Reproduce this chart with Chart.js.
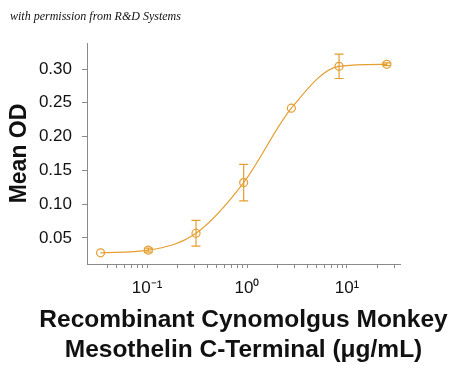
<!DOCTYPE html>
<html lang="en">
<head>
    <meta charset="UTF-8">
    <title>Mean OD vs Mesothelin C-Terminal</title>
    <script src="https://cdn.jsdelivr.net/npm/chart.js"></script>
    <style>
        body {
            margin: 0;
            background: #fff;
        }
        .wrap {
            position: relative;
            width: 450px;
            height: 366px;
        }
        .credit {
            position: absolute;
            left: 10px;
            top: 9px;
            font-family: "Liberation Serif", serif;
            font-style: italic;
            font-size: 12px;
            color: #111;
        }
    </style>
</head>
<body>
    <div class="wrap">
        <canvas id="odChart" width="450" height="366"></canvas>
        <div class="credit">with permission from R&amp;D Systems</div>
    </div>

    <script>
        // values (3-fold dilution series)
        const concentrations = [0.0343, 0.103, 0.309, 0.926, 2.78, 8.33, 25];
        const meanOD = [0.028, 0.032, 0.057, 0.132, 0.242, 0.304, 0.307];
        const odError = [0, 0.003, 0.019, 0.027, 0, 0.018, 0.002];

        const yTicks = [0.05, 0.10, 0.15, 0.20, 0.25, 0.30];
        const xDecades = [0.1, 1, 10];
        const xDecadeLabels = ['10\u207B\u00B9', '10\u2070', '10\u00B9'];
        const xTitleLines = ['Recombinant Cynomolgus Monkey', 'Mesothelin C-Terminal (\u03BCg/mL)'];

        const orange = 'rgb(229,158,48)';
        const axisGray = '#8a8a8a';

        const errorBars = {
            id: 'errorBars',
            afterDatasetsDraw(chart) {
                const ctx = chart.ctx;
                const xs = chart.scales.x, ys = chart.scales.y;
                ctx.save();
                ctx.strokeStyle = orange;
                ctx.lineWidth = 1.2;
                concentrations.forEach((c, i) => {
                    if (!odError[i]) return;
                    const px = xs.getPixelForValue(c);
                    const top = ys.getPixelForValue(meanOD[i] + odError[i]);
                    const bot = ys.getPixelForValue(meanOD[i] - odError[i]);
                    ctx.beginPath();
                    ctx.moveTo(px, top); ctx.lineTo(px, bot);
                    ctx.moveTo(px - 4.5, top); ctx.lineTo(px + 4.5, top);
                    ctx.moveTo(px - 4.5, bot); ctx.lineTo(px + 4.5, bot);
                    ctx.stroke();
                });
                ctx.restore();
            }
        };

        const xTitle = {
            id: 'xTitle',
            afterDraw(chart) {
                const ctx = chart.ctx;
                const area = chart.chartArea;
                const cx = (area.left + area.right) / 2;
                ctx.save();
                ctx.font = 'bold 24.5px "Liberation Sans", Arial, sans-serif';
                ctx.fillStyle = '#111';
                ctx.textAlign = 'center';
                ctx.textBaseline = 'middle';
                xTitleLines.forEach((line, i) => {
                    ctx.fillText(line, cx, chart.height - 16 - 30 * (xTitleLines.length - 1 - i));
                });
                ctx.restore();
            }
        };

        new Chart(document.getElementById('odChart'), {
            type: 'line',
            data: {
                datasets: [{
                    data: concentrations.map((c, i) => ({ x: c, y: meanOD[i] })),
                    borderColor: orange,
                    borderWidth: 1.2,
                    cubicInterpolationMode: 'monotone',
                    pointRadius: 4,
                    pointBorderWidth: 1.2,
                    pointBorderColor: orange,
                    pointBackgroundColor: 'rgba(255,255,255,0)',
                    fill: false
                }]
            },
            options: {
                responsive: false,
                devicePixelRatio: 1,
                animation: false,
                events: [],
                layout: { padding: { left: 0, right: 50, top: 43, bottom: 0 } },
                plugins: {
                    legend: { display: false },
                    tooltip: { enabled: false }
                },
                scales: {
                    x: {
                        type: 'logarithmic',
                        min: 0.0251,
                        max: 33.9,
                        afterFit(scale) { scale.height = 102; },
                        afterBuildTicks(scale) {
                            scale.ticks = scale.ticks.filter(t => {
                                const m = t.value / Math.pow(10, Math.floor(Math.log10(t.value) + 1e-9));
                                return Math.abs(m - Math.round(m)) < 1e-6;
                            });
                        },
                        border: { display: true, color: axisGray, width: 1 },
                        grid: { drawOnChartArea: false, drawTicks: true, tickLength: 4, color: axisGray },
                        ticks: {
                            autoSkip: false,
                            maxRotation: 0,
                            padding: 10,
                            color: '#111',
                            font: { family: '"Liberation Sans", Arial, sans-serif', size: 17 },
                            callback(value) {
                                const k = xDecades.findIndex(d => Math.abs(d - value) / d < 1e-6);
                                return k >= 0 ? xDecadeLabels[k] : '';
                            }
                        }
                    },
                    y: {
                        type: 'linear',
                        min: 0.0115,
                        max: 0.3385,
                        afterFit(scale) { scale.width = 87; },
                        afterBuildTicks(scale) {
                            scale.ticks = yTicks.map(v => ({ value: v }));
                        },
                        border: { display: true, color: axisGray, width: 1 },
                        grid: { drawOnChartArea: false, drawTicks: true, tickLength: 5, color: axisGray },
                        ticks: {
                            padding: 10,
                            color: '#111',
                            font: { family: '"Liberation Sans", Arial, sans-serif', size: 17 },
                            callback(value) { return value.toFixed(2); }
                        },
                        title: {
                            display: true,
                            text: 'Mean OD',
                            color: '#111',
                            padding: { top: 6, bottom: 0 },
                            font: { family: '"Liberation Sans", Arial, sans-serif', size: 23, weight: 'bold' }
                        }
                    }
                }
            },
            plugins: [errorBars, xTitle]
        });
    </script>
</body>
</html>
